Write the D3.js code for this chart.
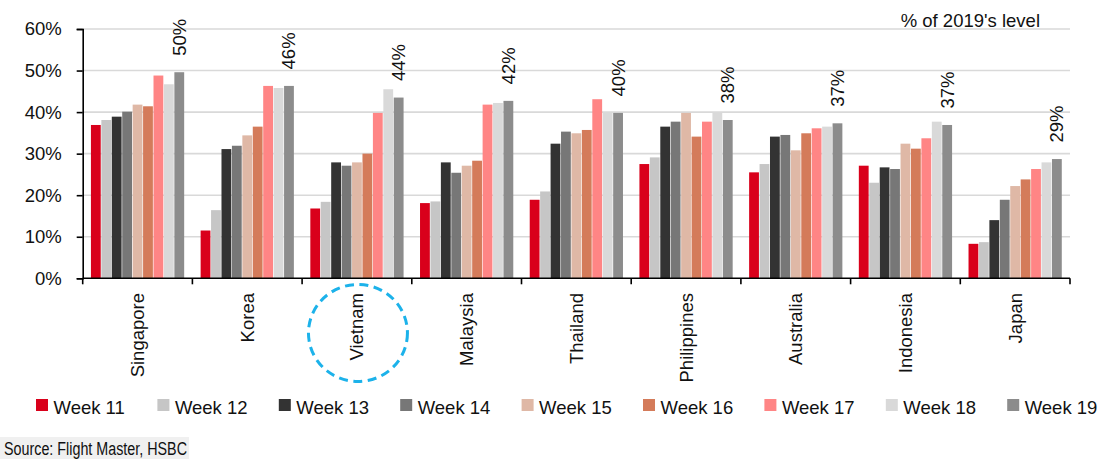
<!DOCTYPE html>
<html><head><meta charset="utf-8">
<script src="https://cdn.jsdelivr.net/npm/d3@7"></script>
<style>
html,body{margin:0;padding:0;background:#fff;}
svg{display:block;font-family:"Liberation Sans",Arial,sans-serif;}
</style></head>
<body>
<svg id="chart" width="1100" height="464"></svg>
<script>
const categories = ["Singapore","Korea","Vietnam","Malaysia","Thailand","Philippines","Australia","Indonesia","Japan"];
const weeks = ["Week 11","Week 12","Week 13","Week 14","Week 15","Week 16","Week 17","Week 18","Week 19"];
const colors = ["#d9001b","#c6c6c6","#333333","#777777","#dfb8a6","#d47b5a","#ff8585","#d9d9d9","#8c8c8c"];
// values per category, Week 11..Week 19 (% of 2019's level)
const singapore  = [36.9,38.1,38.9,40.1,41.8,41.4,48.8,46.7,49.6];
const korea      = [11.5,16.4,31.1,31.9,34.4,36.5,46.3,45.8,46.3];
const vietnam    = [16.8,18.4,27.9,27.1,27.9,30.0,39.8,45.5,43.5];
const malaysia   = [18.1,18.5,27.9,25.4,27.1,28.3,41.8,42.2,42.7];
const thailand   = [18.9,20.9,32.4,35.3,34.9,35.7,43.1,39.8,39.8];
const philippines= [27.5,29.1,36.5,37.7,39.8,34.1,37.7,39.8,38.1];
const australia  = [25.5,27.5,34.1,34.5,30.8,34.9,36.1,36.5,37.3];
const indonesia  = [27.1,23.0,26.7,26.3,32.4,31.2,33.7,37.7,36.9];
const japan      = [8.3,8.7,14.0,18.9,22.2,23.8,26.3,27.9,28.7];
const seriesByCategory = [singapore,korea,vietnam,malaysia,thailand,philippines,australia,indonesia,japan];
const latestLabels = ["50%","46%","44%","42%","40%","38%","37%","37%","29%"];
const yTicks = [0,10,20,30,40,50,60];
const unitNote = "% of 2019's level";
const sourceNote = "Source: Flight Master, HSBC";
const highlighted = "Vietnam";

const FS = 18.5;
const svg = d3.select("#chart");
const plotLeft = 82.7, plotRight = 1070, plotTop = 29, plotBottom = 278.3;

const x0 = d3.scaleBand().domain(categories).range([plotLeft,plotRight]).paddingInner(0.15).paddingOuter(0.075);
const x1 = d3.scaleBand().domain(weeks).range([0,x0.bandwidth()]).paddingInner(0.06);
const y = d3.scaleLinear().domain([0,60]).range([plotBottom,plotTop]);
const color = d3.scaleOrdinal().domain(weeks).range(colors);

// gridlines
svg.append("g").selectAll("line").data(yTicks.filter(d=>d>0)).join("line")
  .attr("x1",plotLeft).attr("x2",plotRight)
  .attr("y1",d=>y(d)).attr("y2",d=>y(d))
  .attr("stroke","#d9d9d9").attr("stroke-width",1.6);

// bars
const groups = svg.append("g").selectAll("g").data(categories).join("g")
  .attr("transform",d=>`translate(${x0(d)},0)`);
groups.selectAll("rect").data((c,i)=>seriesByCategory[i].map((v,j)=>({w:weeks[j],v})))
  .join("rect")
  .attr("x",d=>x1(d.w)).attr("width",x1.bandwidth())
  .attr("y",d=>y(d.v)).attr("height",d=>plotBottom-y(d.v))
  .attr("fill",d=>color(d.w));

// latest-week labels
svg.append("g").selectAll("text").data(categories).join("text")
  .attr("transform",(c,i)=>{
    const cx = x0(c)+x1(weeks[8])+x1.bandwidth()/2;
    const ty = y(seriesByCategory[i][8]) - 16.5;
    return `translate(${cx},${ty}) rotate(-90)`;
  })
  .attr("dy","0.35em").attr("text-anchor","start")
  .attr("font-size",FS).attr("fill","#111")
  .text((c,i)=>latestLabels[i]);

// y axis
const yAxis = d3.axisLeft(y).tickValues(yTicks).tickFormat(d=>d+"%").tickSize(6).tickPadding(15);
const gy = svg.append("g").attr("transform",`translate(${plotLeft},0)`).call(yAxis);
gy.select(".domain").attr("stroke","#000").attr("stroke-width",1.6);
gy.selectAll(".tick line").attr("stroke","#000").attr("stroke-width",1.6);
gy.selectAll(".tick text").attr("font-size",FS).attr("fill","#111")
  .attr("font-family","'Liberation Sans',Arial,sans-serif");

// x axis: baseline with boundary ticks
const boundaries = categories.map(c=>x0(c)-x0.step()*x0.paddingInner()/2);
boundaries.push(plotRight);
boundaries[0] = plotLeft;
svg.append("line").attr("x1",plotLeft).attr("x2",plotRight).attr("y1",plotBottom).attr("y2",plotBottom)
  .attr("stroke","#000").attr("stroke-width",1.6);
svg.append("g").selectAll("line").data(boundaries).join("line")
  .attr("x1",d=>d).attr("x2",d=>d).attr("y1",plotBottom).attr("y2",plotBottom+6)
  .attr("stroke","#000").attr("stroke-width",1.6);

// category labels
svg.append("g").selectAll("text").data(categories).join("text")
  .attr("transform",c=>`translate(${x0(c)+x0.bandwidth()/2},293) rotate(-90)`)
  .attr("dy","0.35em").attr("text-anchor","end")
  .attr("font-size",FS).attr("fill","#111")
  .text(c=>c);

// highlight circle
const hx = x0(highlighted)+x0.bandwidth()/2;
svg.append("ellipse").attr("cx",hx+1).attr("cy",333).attr("rx",49.5).attr("ry",48.5)
  .attr("fill","none").attr("stroke","#1cb2ea").attr("stroke-width",3)
  .attr("stroke-dasharray","9,5.5");

// unit note
svg.append("text").attr("x",1040).attr("y",27).attr("text-anchor","end")
  .attr("font-size",FS).attr("fill","#111").text(unitNote);

// legend
const lg = svg.append("g").selectAll("g").data(weeks).join("g")
  .attr("transform",(d,i)=>`translate(${36+i*121.4},0)`);
lg.append("rect").attr("x",0).attr("y",399).attr("width",12).attr("height",12).attr("fill",d=>color(d));
lg.append("text").attr("x",17.5).attr("y",413.5).attr("font-size",FS).attr("fill","#111").text(d=>d);

// source
svg.append("rect").attr("x",0).attr("y",437).attr("width",189).attr("height",22).attr("fill","#f0f0f0");
svg.append("text").attr("x",4).attr("y",455).attr("font-size",18).attr("fill","#111")
  .attr("textLength",183).attr("lengthAdjust","spacingAndGlyphs").text(sourceNote);
</script>
</body></html>
